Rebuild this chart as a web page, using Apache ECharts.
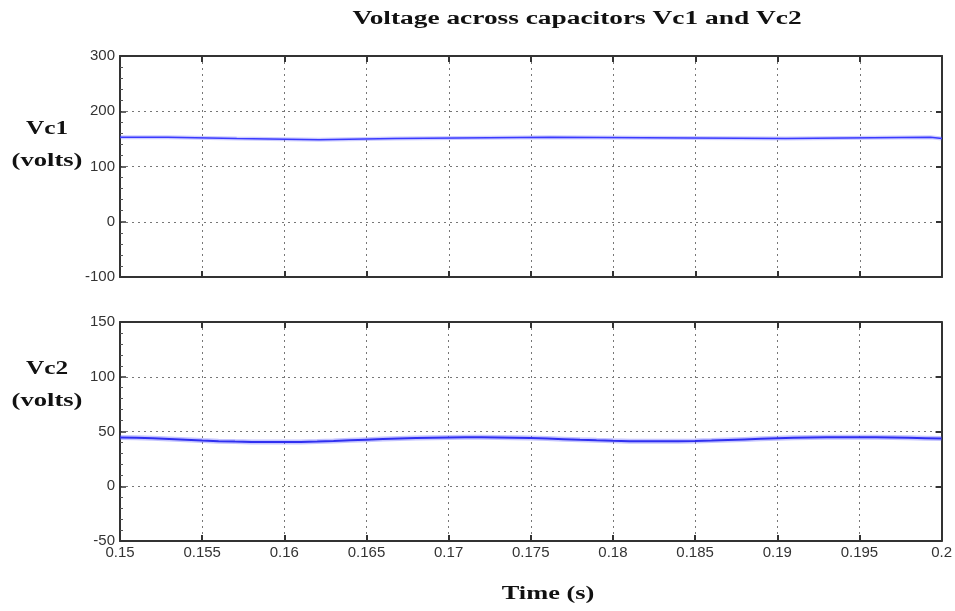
<!DOCTYPE html>
<html>
<head>
<meta charset="utf-8">
<script src="https://cdn.jsdelivr.net/npm/echarts@6/dist/echarts.min.js"></script>
<style>html,body{margin:0;padding:0;background:#fff}#c{width:955px;height:611px}</style>
</head>
<body>
<div id="c"></div>
<script>
// ---- data ----
var xTicks = [0.15, 0.155, 0.16, 0.165, 0.17, 0.175, 0.18, 0.185, 0.19, 0.195, 0.2];
var vc1Times  = [0.15, 0.1529, 0.1571, 0.1621, 0.1667, 0.1762, 0.1905, 0.1993, 0.2];
var vc1Values = [153, 150.5, 148.5, 150.5, 153, 150.5, 153, 150.5, 150.5];
var vc2Times = [0.150,0.151,0.152,0.153,0.154,0.155,0.156,0.157,0.158,0.159,0.160,0.161,0.162,0.163,0.164,0.165,0.166,0.167,0.168,0.169,0.170,0.171,0.172,0.173,0.174,0.175,0.176,0.177,0.178,0.179,0.180,0.181,0.182,0.183,0.184,0.185,0.186,0.187,0.188,0.189,0.190,0.191,0.192,0.193,0.194,0.195,0.196,0.197,0.198,0.199,0.200];
var vc2Values = [44.5,44.2,43.8,43.2,42.5,41.8,41.2,40.8,40.5,40.3,40.3,40.5,40.8,41.3,41.9,42.5,43.1,43.7,44.1,44.4,44.6,44.7,44.7,44.6,44.4,44.0,43.5,43.0,42.4,41.9,41.5,41.2,41.0,41.0,41.1,41.4,41.8,42.3,42.8,43.3,43.8,44.2,44.5,44.7,44.8,44.8,44.7,44.5,44.2,43.9,43.6];
var yTop = {min: -100, max: 300, interval: 100};
var yBot = {min: -50, max: 150, interval: 50};
var titleText = 'Voltage across capacitors Vc1 and Vc2';
var yName1 = ['Vc1', '(volts)'];
var yName2 = ['Vc2', '(volts)'];
var xName = 'Time (s)';

function pairs(xs, ys){ return xs.map(function(x,i){ return [x, ys[i]]; }); }

var gridLine = {show: true, lineStyle: {color: '#777', type: [2, 4], width: 1}};
var labelFont = {color: '#333', fontSize: 15, fontFamily: 'Liberation Sans Narrow, Arial Narrow, Liberation Sans, Arial'};
var axisLine = {show: true, onZero: false, lineStyle: {color: '#333', width: 2}};

function xAxes(gi, showLabels){
  return [{
    type: 'value', gridIndex: gi, min: 0.15, max: 0.2, interval: 0.005, position: 'bottom',
    axisLine: axisLine, axisTick: {show: true, inside: true, length: 6, lineStyle: {color: '#333', width: 2}},
    axisLabel: Object.assign({show: showLabels, margin: 4}, labelFont),
    splitLine: gridLine
  },{
    type: 'value', gridIndex: gi, min: 0.15, max: 0.2, interval: 0.005, position: 'top',
    axisLine: axisLine, axisTick: {show: true, inside: true, length: 6, lineStyle: {color: '#333', width: 2}},
    axisLabel: {show: false}, splitLine: {show: false}
  }];
}
function yAxes(gi, r){
  return [{
    type: 'value', gridIndex: gi, min: r.min, max: r.max, interval: r.interval, position: 'left',
    axisLine: axisLine, axisTick: {show: true, inside: true, length: 6, lineStyle: {color: '#333', width: 1.5}},
    minorTick: {show: true, splitNumber: 5, length: 3, lineStyle: {color: '#555'}},
    axisLabel: Object.assign({margin: 5}, labelFont),
    splitLine: gridLine
  },{
    type: 'value', gridIndex: gi, min: r.min, max: r.max, interval: r.interval, position: 'right',
    axisLine: axisLine, axisTick: {show: true, inside: true, length: 6, lineStyle: {color: '#333', width: 2}},
    axisLabel: {show: false}, splitLine: {show: false}
  }];
}

var xa = xAxes(0, false).concat(xAxes(1, true));
var ya = yAxes(0, yTop).concat(yAxes(1, yBot));

var serif = 'Liberation Serif, Times New Roman, serif';
function stretchedText(str, x, y, size, sx){
  return {type: 'text', x: x, y: y, scaleX: sx, silent: true,
    style: {text: str, font: 'bold ' + size + 'px ' + serif, fill: '#111',
            textAlign: 'center', align: 'center', textVerticalAlign: 'middle', verticalAlign: 'middle'}};
}

var chart = echarts.init(document.getElementById('c'), null, {renderer: 'canvas'});
chart.setOption({
  animation: false,
  backgroundColor: '#fff',
  graphic: [
    stretchedText(titleText, 577, 19, 18, 1.52),
    stretchedText(yName1[0], 47, 129, 19, 1.33),
    stretchedText(yName1[1], 47, 161, 19, 1.4),
    stretchedText(yName2[0], 47, 369, 19, 1.33),
    stretchedText(yName2[1], 47, 401, 19, 1.4),
    stretchedText(xName, 548, 594, 19, 1.39)
  ],
  grid: [
    {left: 120, width: 822, top: 56, height: 221},
    {left: 120, width: 822, top: 322, height: 219}
  ],
  xAxis: xa,
  yAxis: ya,
  series: [
    {type: 'line', xAxisIndex: 0, yAxisIndex: 0, step: 'end', showSymbol: false,
     data: pairs(vc1Times, vc1Values), lineStyle: {color: 'rgba(90,90,255,0.3)', width: 4}, silent: true},
    {type: 'line', xAxisIndex: 0, yAxisIndex: 0, step: 'end', showSymbol: false,
     data: pairs(vc1Times, vc1Values), lineStyle: {color: '#3a3aff', width: 1.5}},
    {type: 'line', xAxisIndex: 2, yAxisIndex: 2, showSymbol: false,
     data: pairs(vc2Times, vc2Values), lineStyle: {color: 'rgba(90,90,255,0.35)', width: 5}, silent: true},
    {type: 'line', xAxisIndex: 2, yAxisIndex: 2, showSymbol: false,
     data: pairs(vc2Times, vc2Values), lineStyle: {color: '#2f2ff0', width: 2}}
  ]
});
</script>
</body>
</html>
